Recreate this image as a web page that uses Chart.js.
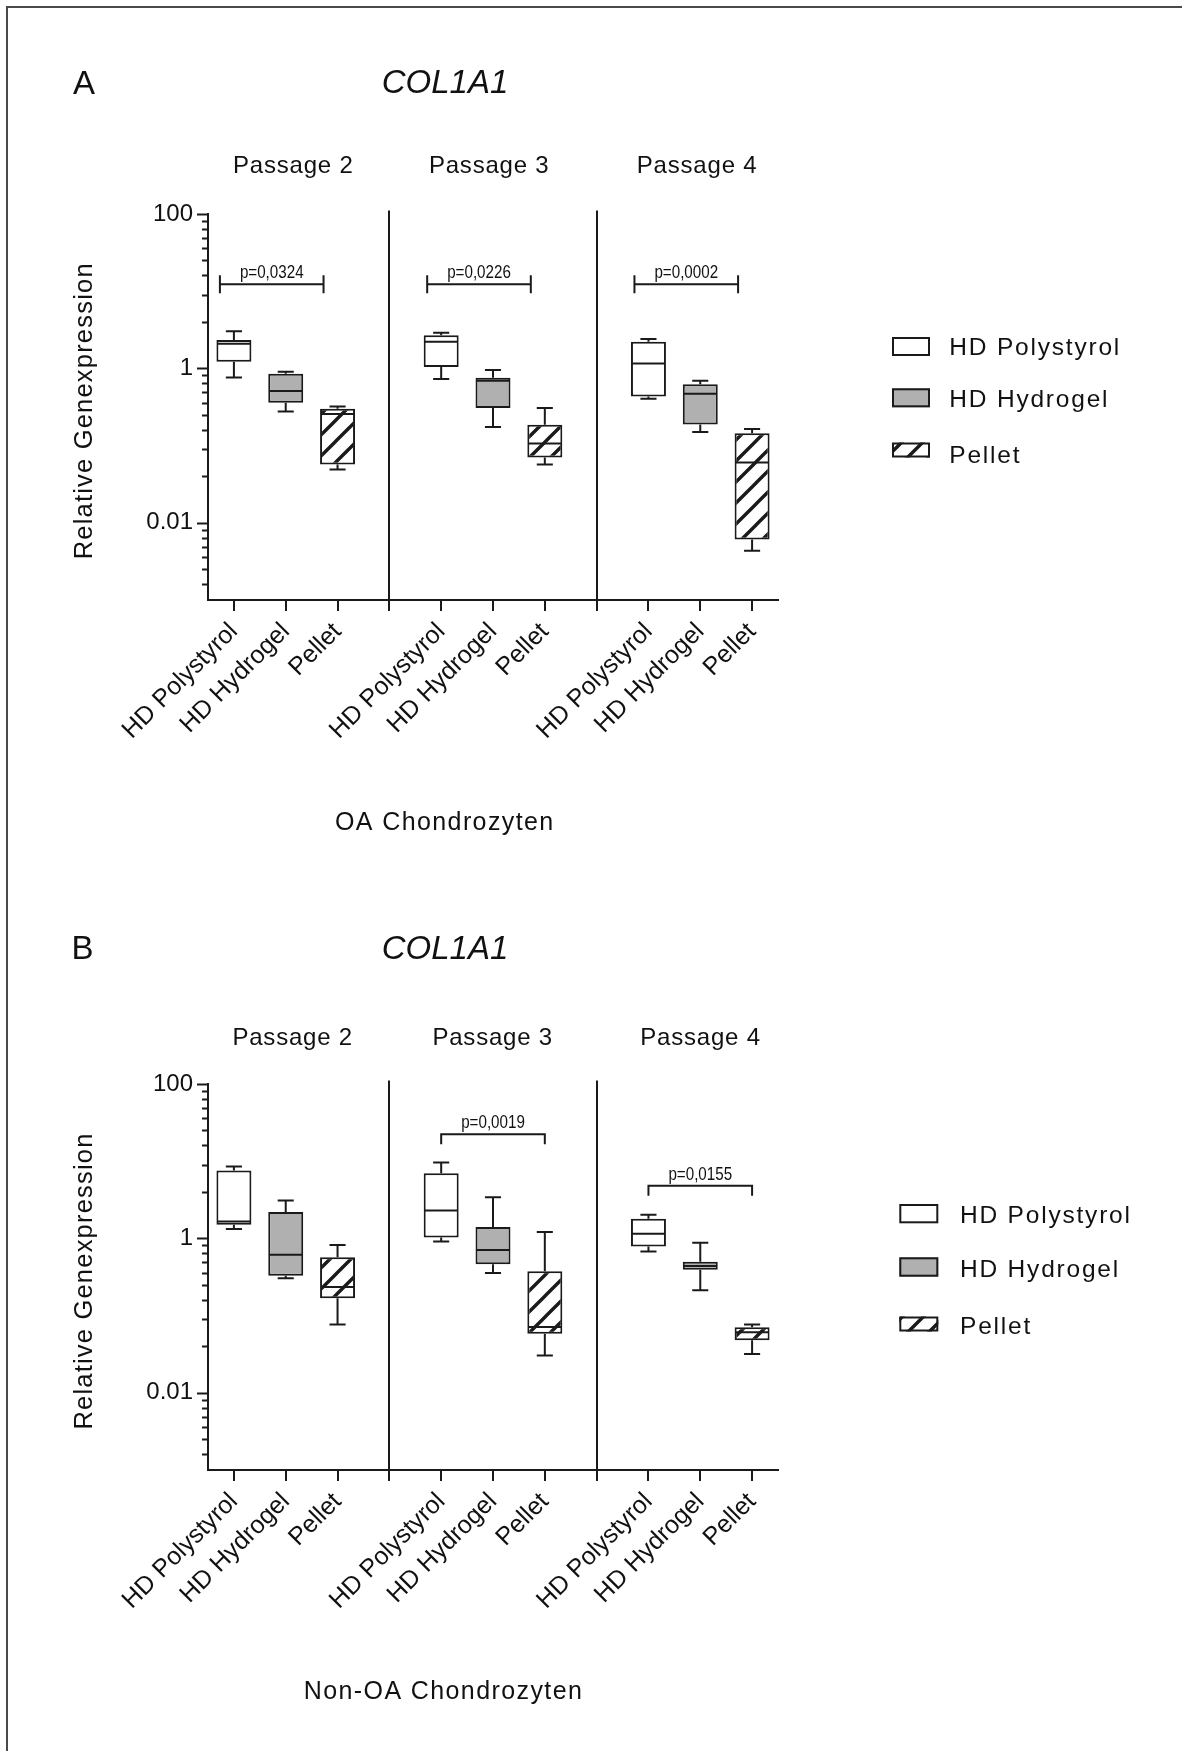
<!DOCTYPE html>
<html><head><meta charset="utf-8">
<script src="https://cdn.jsdelivr.net/npm/chart.js@4.4.1/dist/chart.umd.min.js"></script>
<style>
html,body{margin:0;padding:0;background:#fff;}
#page{position:relative;width:1182px;height:1751px;overflow:hidden;background:#fff;}
#frame{position:absolute;left:6px;top:6px;width:1176px;height:1745px;border-top:2px solid #4a4a4a;border-left:2px solid #4a4a4a;box-sizing:border-box;}
canvas{position:absolute;left:0;}
#cA{top:0px;}
#cB{top:875px;}
</style></head><body>
<div id="page"><div id="frame"></div>
<canvas id="cA" width="1182" height="875"></canvas>
<canvas id="cB" width="1182" height="876"></canvas>
</div>
<script>
// ---------------- data ----------------
const categories = ['HD Polystyrol', 'HD Hydrogel', 'Pellet'];
const passages = ['Passage 2', 'Passage 3', 'Passage 4'];
// five-number summaries [min, q1, median, q3, max], one per passage
const oaPolystyrol = [[0.765, 1.22, 2.09, 2.33, 3.02], [0.727, 1.04, 2.22, 2.68, 2.90], [0.404, 0.434, 1.16, 2.22, 2.40]];
const oaHydrogel   = [[0.277, 0.359, 0.508, 0.853, 0.905], [0.174, 0.306, 0.692, 0.757, 0.952], [0.150, 0.188, 0.47, 0.621, 0.692]];
const oaPellet     = [[0.049, 0.057, 0.256, 0.30, 0.322], [0.057, 0.0703, 0.1067, 0.186, 0.306], [0.00434, 0.00608, 0.0605, 0.144, 0.164]];
const nonOaPolystyrol = [[1.32, 1.50, 1.66, 7.57, 8.53], [0.915, 1.03, 2.30, 7.0, 9.6], [0.679, 0.788, 1.15, 1.80, 2.02]];
const nonOaHydrogel   = [[0.304, 0.329, 0.615, 2.19, 3.10], [0.356, 0.461, 0.707, 1.40, 3.42], [0.213, 0.393, 0.439, 0.499, 0.879]];
const nonOaPellet     = [[0.0765, 0.168, 0.235, 0.568, 0.82], [0.0304, 0.058, 0.0713, 0.374, 1.21], [0.0319, 0.048, 0.0609, 0.0707, 0.0765]];
// significance brackets (HD Polystyrol vs Pellet in each passage)
const oaPValues = ['p=0,0324', 'p=0,0226', 'p=0,0002'];
const oaPLevels = [12.3, 12.3, 12.3];
const nonOaPValues = [null, 'p=0,0019', 'p=0,0155'];
const nonOaPLevels = [null, 22.3, 4.8];
// axis
const yMin = 0.001, yMax = 100;
const yMajorTicks = [100, 1, 0.01];
const yMajorLabels = ['100', '1', '0.01'];

// ---------------- styling ----------------
const INK = '#1a1a1a';
const TXT = '#111111';
const FONT = "'Liberation Sans', Arial, Helvetica, sans-serif";

function minorTickValues() {
  // squares pattern within every two-decade interval (as in the original axis)
  const out = [];
  for (let e = 2; e >= -2; e -= 2) {
    for (let k = 1; k <= 10; k++) {
      const v = Number((k * k * Math.pow(10, e - 2)).toPrecision(6));
      if (v >= yMin - 1e-12 && v <= yMax + 1e-9 && !out.some(o => Math.abs(o - v) < v * 1e-6)) out.push(v);
    }
  }
  return out.sort((a, b) => a - b);
}
const yAllTicks = minorTickValues();
const isMajor = v => yMajorTicks.some(m => Math.abs(Math.log10(m) - Math.log10(v)) < 1e-6);

const xLabels = [];
passages.forEach((p, pi) => {
  categories.forEach(c => xLabels.push(c));
  if (pi < passages.length - 1) xLabels.push('');
});
const slotOf = (pi, si) => pi * (categories.length + 1) + si;

function makeHatch(ctx) {
  const s = 21;
  const c = document.createElement('canvas');
  c.width = s; c.height = s;
  const g = c.getContext('2d');
  g.fillStyle = '#fff'; g.fillRect(0, 0, s, s);
  g.strokeStyle = INK; g.lineWidth = 3.4;
  g.beginPath();
  g.moveTo(-s * 0.5, s * 0.5); g.lineTo(s * 0.5, -s * 0.5);
  g.moveTo(-1, s + 1); g.lineTo(s + 1, -1);
  g.moveTo(s * 0.5, s * 1.5); g.lineTo(s * 1.5, s * 0.5);
  g.stroke();
  return ctx.createPattern(c, 'repeat');
}

function drawText(ctx, t) {
  ctx.save();
  ctx.font = t.font;
  ctx.fillStyle = TXT;
  ctx.textAlign = t.align || 'left';
  ctx.textBaseline = 'alphabetic';
  if ('letterSpacing' in ctx) ctx.letterSpacing = (t.spacing || 0) + 'px';
  ctx.translate(t.x, t.y);
  if (t.rotate) ctx.rotate(t.rotate);
  if (t.sx) ctx.scale(t.sx, 1);
  ctx.fillText(t.text, 0, 0);
  ctx.restore();
}

const boxPlugin = {
  id: 'boxWhiskers',
  afterDatasetsDraw(chart) {
    const {ctx} = chart; const y = chart.scales.y;
    ctx.save(); ctx.strokeStyle = INK; ctx.lineWidth = 2;
    chart.data.datasets.forEach((ds, di) => {
      const meta = chart.getDatasetMeta(di);
      ds.stats.forEach((st, i) => {
        if (!st) return;
        const bar = meta.data[i];
        const cx = bar.x, half = bar.width / 2, cap = half * 0.46;
        const [mn, q1, md, q3, mx] = st.map(v => y.getPixelForValue(v));
        ctx.beginPath();
        ctx.moveTo(cx, q3); ctx.lineTo(cx, mx);
        ctx.moveTo(cx - cap, mx); ctx.lineTo(cx + cap, mx);
        ctx.moveTo(cx, q1); ctx.lineTo(cx, mn);
        ctx.moveTo(cx - cap, mn); ctx.lineTo(cx + cap, mn);
        ctx.moveTo(cx - half + 1, md); ctx.lineTo(cx + half - 1, md);
        ctx.stroke();
      });
    });
    ctx.restore();
  }
};

const decorPlugin = {
  id: 'decor',
  afterDraw(chart, args, o) {
    const {ctx, chartArea} = chart; const x = chart.scales.x, y = chart.scales.y;
    ctx.save();
    ctx.strokeStyle = INK; ctx.lineWidth = 2;
    // y tick marks
    y.ticks.forEach(t => {
      const py = Math.round(y.getPixelForValue(t.value)) + 0.5;
      const len = isMajor(t.value) ? 11 : 6;
      ctx.beginPath(); ctx.moveTo(y.right - len, py); ctx.lineTo(y.right, py); ctx.stroke();
    });
    // group separators
    for (let pi = 0; pi < passages.length - 1; pi++) {
      const px = Math.round(x.getPixelForValue(slotOf(pi, categories.length)));
      ctx.beginPath(); ctx.moveTo(px, chartArea.top - 3.5); ctx.lineTo(px, chartArea.bottom + 11); ctx.stroke();
    }
    // significance brackets
    o.pValues.forEach((p, pi) => {
      if (!p) return;
      const x1 = x.getPixelForValue(slotOf(pi, 0)) + o.bracketShift;
      const x2 = x.getPixelForValue(slotOf(pi, 2)) + o.bracketShift;
      const py = y.getPixelForValue(o.pLevels[pi]);
      ctx.lineWidth = 2;
      ctx.beginPath();
      ctx.moveTo(x1, py); ctx.lineTo(x2, py);
      ctx.moveTo(x1, py + o.capUp); ctx.lineTo(x1, py + o.capDown);
      ctx.moveTo(x2, py + o.capUp); ctx.lineTo(x2, py + o.capDown);
      ctx.stroke();
      drawText(ctx, {text: p, x: (x1 + x2) / 2, y: py - 6, font: '18.5px ' + FONT, align: 'center', sx: 0.82});
    });
    // texts
    o.texts.forEach(t => drawText(ctx, t));
    // legend
    const fills = chart.data.datasets.map(d => d.backgroundColor);
    o.legend.rows.forEach((r, i) => {
      ctx.fillStyle = fills[i];
      ctx.fillRect(o.legend.x, r.top, o.legend.w, r.h);
      ctx.lineWidth = 2; ctx.strokeStyle = INK;
      ctx.strokeRect(o.legend.x + 1, r.top + 1, o.legend.w - 2, r.h - 2);
      drawText(ctx, {text: chart.data.datasets[i].label, x: o.legend.textX, y: r.base, font: '24.5px ' + FONT, spacing: 1.8});
    });
    ctx.restore();
  }
};

function buildPanel(id, series, pValues, pLevels, L) {
  const canvas = document.getElementById(id);
  const ctx = canvas.getContext('2d');
  const hatch = makeHatch(ctx);
  const fills = ['#ffffff', '#b0b0b0', hatch];
  const datasets = series.map((s, si) => {
    const data = xLabels.map(() => null);
    const stats = xLabels.map(() => null);
    s.forEach((st, pi) => { data[slotOf(pi, si)] = [st[1], st[3]]; stats[slotOf(pi, si)] = st; });
    return {
      label: categories[si], data, stats,
      backgroundColor: fills[si], borderColor: INK, borderWidth: 2, borderSkipped: false,
      barPercentage: 0.675, categoryPercentage: 1, skipNull: true
    };
  });
  return new Chart(ctx, {
    type: 'bar',
    data: {labels: xLabels, datasets},
    options: {
      responsive: false, animation: false, devicePixelRatio: 1,
      layout: {padding: {top: L.top, right: 1182 - L.right, left: 0, bottom: 0}},
      plugins: {
        legend: {display: false}, tooltip: {enabled: false},
        decor: {pValues, pLevels, bracketShift: L.bracketShift, capUp: L.capUp, capDown: L.capDown, texts: L.texts, legend: L.legend}
      },
      scales: {
        x: {
          type: 'category', offset: true,
          grid: {display: true, drawOnChartArea: false, drawTicks: true, tickLength: 11, offset: false, color: INK, lineWidth: 2},
          border: {display: true, color: INK, width: 2},
          ticks: {autoSkip: false, minRotation: 45, maxRotation: 45, padding: 6, color: TXT, font: {family: FONT, size: 25}},
          afterFit: s => { s.height = L.xHeight; }
        },
        y: {
          type: 'logarithmic', position: 'left', min: yMin, max: yMax,
          grid: {display: false, drawTicks: false},
          border: {display: true, color: INK, width: 2},
          ticks: {
            autoSkip: false, padding: 15, color: TXT, font: {family: FONT, size: 24},
            callback: v => { const i = yMajorTicks.findIndex(m => Math.abs(Math.log10(m) - Math.log10(v)) < 1e-6); return i >= 0 ? yMajorLabels[i] : ''; }
          },
          afterBuildTicks: s => { s.ticks = yAllTicks.map(v => ({value: v})); },
          afterFit: s => { s.width = L.left; }
        }
      }
    },
    plugins: [boxPlugin, decorPlugin]
  });
}

const titleFont = '33px ' + FONT;
buildPanel('cA', [oaPolystyrol, oaHydrogel, oaPellet], oaPValues, oaPLevels, {
  top: 214, left: 208, right: 778, xHeight: 875 - 600,
  bracketShift: -14, capUp: -9, capDown: 9,
  texts: [
    {text: 'A', x: 73, y: 94, font: titleFont},
    {text: 'COL1A1', x: 445, y: 93.3, font: 'italic ' + titleFont, align: 'center'},
    {text: passages[0], x: 293.3, y: 173.3, font: '24px ' + FONT, align: 'center', spacing: 0.8},
    {text: passages[1], x: 489.2, y: 173.3, font: '24px ' + FONT, align: 'center', spacing: 0.8},
    {text: passages[2], x: 697.1, y: 173.3, font: '24px ' + FONT, align: 'center', spacing: 0.8},
    {text: 'Relative Genexpression', x: 91.7, y: 410.8, font: '25.5px ' + FONT, align: 'center', spacing: 1.2, rotate: -Math.PI / 2},
    {text: 'OA Chondrozyten', x: 444.8, y: 830, font: '25px ' + FONT, align: 'center', spacing: 1.4}
  ],
  legend: {x: 892, w: 38, textX: 949.3, rows: [{top: 337, h: 19, base: 355}, {top: 388.3, h: 19, base: 406.7}, {top: 442.5, h: 15, base: 463.3}]}
});
buildPanel('cB', [nonOaPolystyrol, nonOaHydrogel, nonOaPellet], nonOaPValues, nonOaPLevels, {
  top: 209, left: 208, right: 778, xHeight: 876 - 595,
  bracketShift: 0, capUp: -1, capDown: 10,
  texts: [
    {text: 'B', x: 71.5, y: 84, font: titleFont},
    {text: 'COL1A1', x: 445, y: 83.6, font: 'italic ' + titleFont, align: 'center'},
    {text: passages[0], x: 292.7, y: 170, font: '24px ' + FONT, align: 'center', spacing: 0.8},
    {text: passages[1], x: 492.7, y: 170, font: '24px ' + FONT, align: 'center', spacing: 0.8},
    {text: passages[2], x: 700.5, y: 170, font: '24px ' + FONT, align: 'center', spacing: 0.8},
    {text: 'Relative Genexpression', x: 91.7, y: 406, font: '25.5px ' + FONT, align: 'center', spacing: 1.2, rotate: -Math.PI / 2},
    {text: 'Non-OA Chondrozyten', x: 443.5, y: 824, font: '25px ' + FONT, align: 'center', spacing: 1.4}
  ],
  legend: {x: 899.3, w: 39, textX: 960, rows: [{top: 329, h: 19.3, base: 348.3}, {top: 382.3, h: 19.4, base: 401.7}, {top: 441.5, h: 15, base: 459}]}
});
</script>
</body></html>
